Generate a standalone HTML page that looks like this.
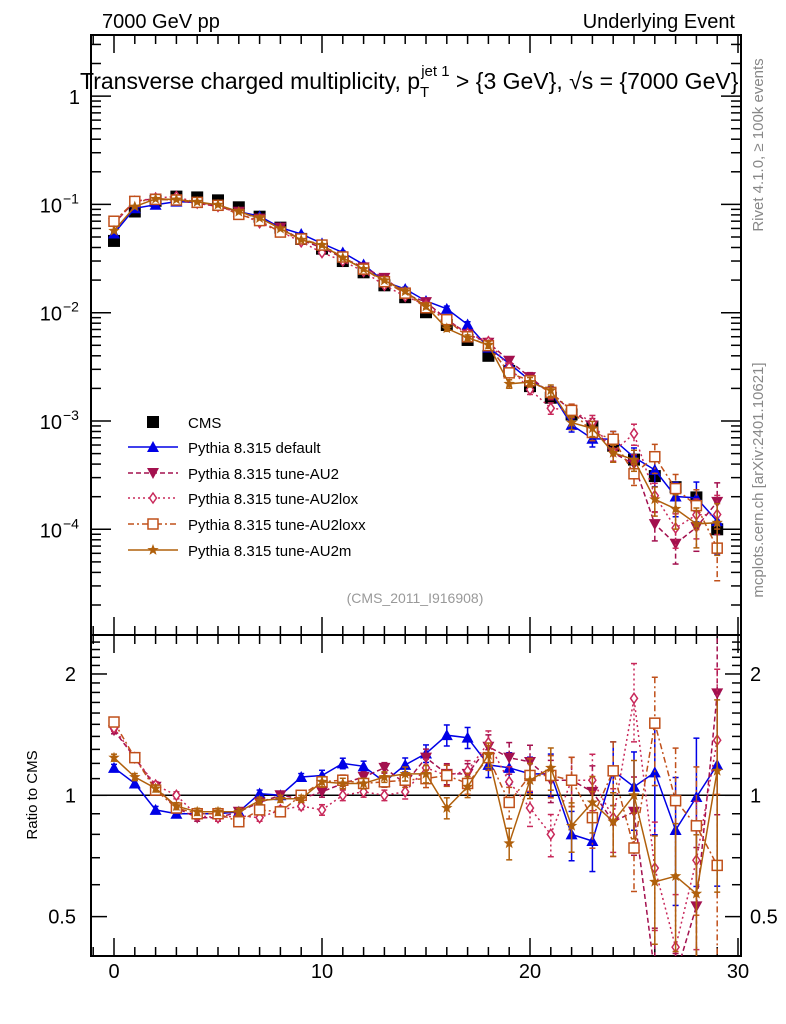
<!DOCTYPE html>
<html><head><meta charset="utf-8"><style>
html,body{margin:0;padding:0;width:786px;height:1024px;overflow:hidden;background:#fff}
svg{display:block;font-family:"Liberation Sans",sans-serif}
</style></head><body>
<svg id="chart" width="786" height="1024" viewBox="0 0 786 1024" xmlns="http://www.w3.org/2000/svg">
<text x="102" y="28" font-size="20">7000 GeV pp</text>
<text x="735" y="28" font-size="20" text-anchor="end">Underlying Event</text>
<text x="80" y="89" font-size="23">Transverse charged multiplicity, p<tspan font-size="15" dy="8">T</tspan><tspan font-size="15" dx="-8" dy="-21">jet 1</tspan><tspan dy="13"> &gt; {3 GeV}, √s = {7000 GeV}</tspan></text>
<text transform="translate(763,145) rotate(-90)" font-size="15" fill="#888" text-anchor="middle">Rivet 4.1.0, ≥ 100k events</text>
<text transform="translate(763,480) rotate(-90)" font-size="15" fill="#888" text-anchor="middle">mcplots.cern.ch [arXiv:2401.10621]</text>
<text x="415" y="603" font-size="14" fill="#999" text-anchor="middle">(CMS_2011_I916908)</text>
<text transform="translate(37,795) rotate(-90)" font-size="15" text-anchor="middle">Ratio to CMS</text>
<g id="axes"></g>
<g id="marks"></g>
<g id="legend"></g>
</svg>
<script>
const xs = [0,1,2,3,4,5,6,7,8,9,10,11,12,13,14,15,16,17,18,19,20,21,22,23,24,25,26,27,28,29];
const cms = [0.046,0.086,0.108,0.118,0.116,0.109,0.094,0.077,0.061,0.048,0.039,0.030,0.0236,0.0179,0.0139,0.0101,0.0077,0.0056,0.0040,0.0029,0.0021,0.00164,0.00115,0.00089,0.00059,0.00044,0.00031,0.000245,0.000197,0.000100];
const rDefault = [1.17,1.07,0.92,0.90,0.90,0.90,0.91,1.01,1.0,1.11,1.12,1.20,1.18,1.08,1.19,1.27,1.41,1.39,1.19,1.17,1.13,1.13,0.80,0.77,1.15,1.05,1.14,0.82,0.99,1.19];
const rAU2 = [1.45,1.24,1.05,0.93,0.88,0.88,0.91,0.96,1.0,0.98,1.02,1.07,1.11,1.17,1.07,1.24,1.13,1.13,1.32,1.24,1.21,1.09,1.09,1.02,0.86,0.91,0.36,0.30,0.53,1.79];
const rAU2lox = [1.47,1.24,1.06,1.0,0.89,0.88,0.89,0.88,0.92,0.94,0.92,1.0,1.02,1.0,1.02,1.17,1.12,1.15,1.35,1.08,0.93,0.80,1.09,1.09,0.88,1.74,0.66,0.42,0.69,1.37];
const rAU2loxx = [1.52,1.24,1.03,0.93,0.90,0.90,0.86,0.92,0.91,1.0,1.08,1.09,1.07,1.08,1.09,1.10,1.12,1.07,1.24,0.96,1.12,1.12,1.09,0.88,1.15,0.74,1.51,0.97,0.84,0.67];
const rAU2m = [1.24,1.11,1.04,0.94,0.91,0.91,0.91,0.97,0.98,0.98,1.08,1.07,1.07,1.11,1.13,1.13,0.93,1.05,1.26,0.76,1.09,1.17,0.84,0.96,0.86,1.0,0.61,0.63,0.57,1.15];
const relErr = [0.02,0.02,0.02,0.02,0.02,0.02,0.02,0.02,0.02,0.02,0.03,0.03,0.03,0.03,0.04,0.05,0.06,0.06,0.07,0.09,0.1,0.12,0.14,0.16,0.18,0.22,0.3,0.35,0.4,0.5];
const yTicksMain = ["1","10","10","10","10"];
const yTickExp = ["","−1","−2","−3","−4"];
const ratioTicks = [2,1,0.5];
const xTickLabels = [0,10,20,30];

const NS="http://www.w3.org/2000/svg";
const L=91,R=741,MT=35,MB=635,RB=956;
const X=v=>114+20.8*v;
const clamp=(y,a,b)=>Math.min(b,Math.max(a,y));
const YM=v=>clamp(312.7-108.3*(Math.log10(Math.max(v,1e-9))+2),MT-20,MB+20);
const YR=v=>clamp(795.3-403*Math.log10(Math.max(v,1e-9)),MB-20,RB+20);
function mk(tag,attrs,parent){const e=document.createElementNS(NS,tag);for(const k in attrs)e.setAttribute(k,attrs[k]);parent.appendChild(e);return e;}
const axes=document.getElementById('axes'),marks=document.getElementById('marks'),legend=document.getElementById('legend');

let f=mk('rect',{x:L,y:MT,width:R-L,height:MB-MT,fill:'none',stroke:'#000','stroke-width':2},axes);

f=mk('rect',{x:L,y:MB,width:R-L,height:RB-MB,fill:'none',stroke:'#000','stroke-width':2},axes);

for(let v=-1;v<=30;v++){const len=(v%10===0)?18:9;const x=X(v);if(x<L||x>R)continue;
 for(const [yb,yt] of [[MB,MT],[RB,MB]]){mk('line',{x1:x,x2:x,y1:yb,y2:yb-len,stroke:'#000','stroke-width':1.5},axes);mk('line',{x1:x,x2:x,y1:yt,y2:yt+len,stroke:'#000','stroke-width':1.5},axes);}}
xTickLabels.forEach(v=>{const t=mk('text',{x:X(v),y:978,'font-size':20,'text-anchor':'middle'},axes);t.textContent=v;
 });
for(let d=-5;d<=0;d++){for(let m=1;m<=9;m++){const v=m*Math.pow(10,d);const y=312.7-108.3*(Math.log10(v)+2);if(y<MT||y>MB)continue;const len=m===1?20:10;
 mk('line',{x1:L,x2:L+len,y1:y,y2:y,stroke:'#000','stroke-width':1.5},axes);mk('line',{x1:R,x2:R-len,y1:y,y2:y,stroke:'#000','stroke-width':1.5},axes);}}
yTicksMain.forEach((s,i)=>{const y=YM(Math.pow(10,-i));const t=mk('text',{x:i===0?80:62,y:y+8,'font-size':20,'text-anchor':'end'},axes);t.textContent=s;
 
 if(yTickExp[i]){const e=mk('text',{x:63,y:y-1,'font-size':14},axes);e.textContent=yTickExp[i];}});
for(let v=0.4;v<=2.6;v+=0.1){const y=795.3-403*Math.log10(v);if(y<MB+2||y>RB-2)continue;const maj=Math.abs(v-0.5)<1e-6||Math.abs(v-1)<1e-6||Math.abs(v-2)<1e-6;const len=maj?16:9;
 mk('line',{x1:L,x2:L+len,y1:y,y2:y,stroke:'#000','stroke-width':1.5},axes);mk('line',{x1:R,x2:R-len,y1:y,y2:y,stroke:'#000','stroke-width':1.5},axes);}
ratioTicks.forEach(v=>{const y=YR(v)+7;let t=mk('text',{x:76,y:y,'font-size':20,'text-anchor':'end'},axes);t.textContent=v;
 
 t=mk('text',{x:750,y:y,'font-size':20},axes);t.textContent=v;});
mk('line',{x1:L,x2:R,y1:YR(1),y2:YR(1),stroke:'#000','stroke-width':1.5},axes);

const series=[
 {name:'Pythia 8.315 default',r:rDefault,c:'#0000e6',dash:'',m:'tri'},
 {name:'Pythia 8.315 tune-AU2',r:rAU2,c:'#a3104e',dash:'5,3',m:'itri'},
 {name:'Pythia 8.315 tune-AU2lox',r:rAU2lox,c:'#c8285a',dash:'2,3',m:'dia'},
 {name:'Pythia 8.315 tune-AU2loxx',r:rAU2loxx,c:'#c0501a',dash:'6,3,2,3',m:'sq'},
 {name:'Pythia 8.315 tune-AU2m',r:rAU2m,c:'#b0600c',dash:'',m:'star'}];
function marker(type,x,y,c,g){
 if(type==='tri')return mk('path',{d:`M${x},${y-6}L${x+6},${y+5}L${x-6},${y+5}Z`,fill:c},g);
 if(type==='itri')return mk('path',{d:`M${x},${y+6}L${x+6},${y-5}L${x-6},${y-5}Z`,fill:c},g);
 if(type==='dia')return mk('path',{d:`M${x},${y-5}L${x+3.5},${y}L${x},${y+5}L${x-3.5},${y}Z`,fill:'#fff',stroke:c,'stroke-width':1.5},g);
 if(type==='sq')return mk('rect',{x:x-5,y:y-5,width:10,height:10,fill:'#fff',stroke:c,'stroke-width':1.5},g);
 if(type==='star'){let d='';for(let i=0;i<10;i++){const a=-Math.PI/2+i*Math.PI/5,rr=i%2?2.5:6;d+=(i?'L':'M')+(x+rr*Math.cos(a)).toFixed(1)+','+(y+rr*Math.sin(a)).toFixed(1);}return mk('path',{d:d+'Z',fill:c},g);}
 if(type==='box')return mk('rect',{x:x-6,y:y-6,width:12,height:12,fill:c},g);
}
const clipM=mk('clipPath',{id:'cm'},marks);mk('rect',{x:L,y:MT,width:R-L,height:MB-MT},clipM);
const clipR=mk('clipPath',{id:'cr'},marks);mk('rect',{x:L,y:MB,width:R-L,height:RB-MB},clipR);
const cg=mk('g',{'clip-path':'url(#cm)'},marks);

xs.forEach((n,i)=>{const p=marker('box',X(n),YM(cms[i]),'#000',cg);});
series.forEach((s,si)=>{
 for(const [panel,clip,Yf,valf] of [['main','cm',YM,i=>cms[i]*s.r[i]],['ratio','cr',YR,i=>s.r[i]]]){
  const g=mk('g',{'clip-path':`url(#${clip})`},marks);
  
  const pts=xs.map((n,i)=>X(n).toFixed(1)+','+Yf(valf(i)).toFixed(1)).join(' ');
  const pl=mk('polyline',{points:pts,fill:'none',stroke:s.c,'stroke-width':1.5,'stroke-dasharray':s.dash},g);
  
  xs.forEach((n,i)=>{const v=valf(i),e=relErr[i];const x=X(n);
   const y1=Yf(v*(1+e)),y2=Yf(v*(1-e));
   mk('line',{x1:x,x2:x,y1:y1,y2:y2,stroke:s.c,'stroke-width':1.5,'stroke-dasharray':s.dash},g);
   mk('line',{x1:x-3,x2:x+3,y1:y1,y2:y1,stroke:s.c,'stroke-width':1.5},g);
   mk('line',{x1:x-3,x2:x+3,y1:y2,y2:y2,stroke:s.c,'stroke-width':1.5},g);
   const p=marker(s.m,x,Yf(v),s.c,g);});
 }
});
const ly=[422,447,473,498,524,550];
let lm=marker('box',153,ly[0],'#000',legend);
let lt=mk('text',{x:188,y:ly[0]+6,'font-size':15},legend);lt.textContent='CMS';
series.forEach((s,i)=>{const y=ly[i+1];mk('line',{x1:128,x2:178,y1:y,y2:y,stroke:s.c,'stroke-width':1.5,'stroke-dasharray':s.dash},legend);
 const m=marker(s.m,153,y,s.c,legend);
 const t=mk('text',{x:188,y:y+6,'font-size':15},legend);t.textContent=s.name;});
</script>
</body></html>
